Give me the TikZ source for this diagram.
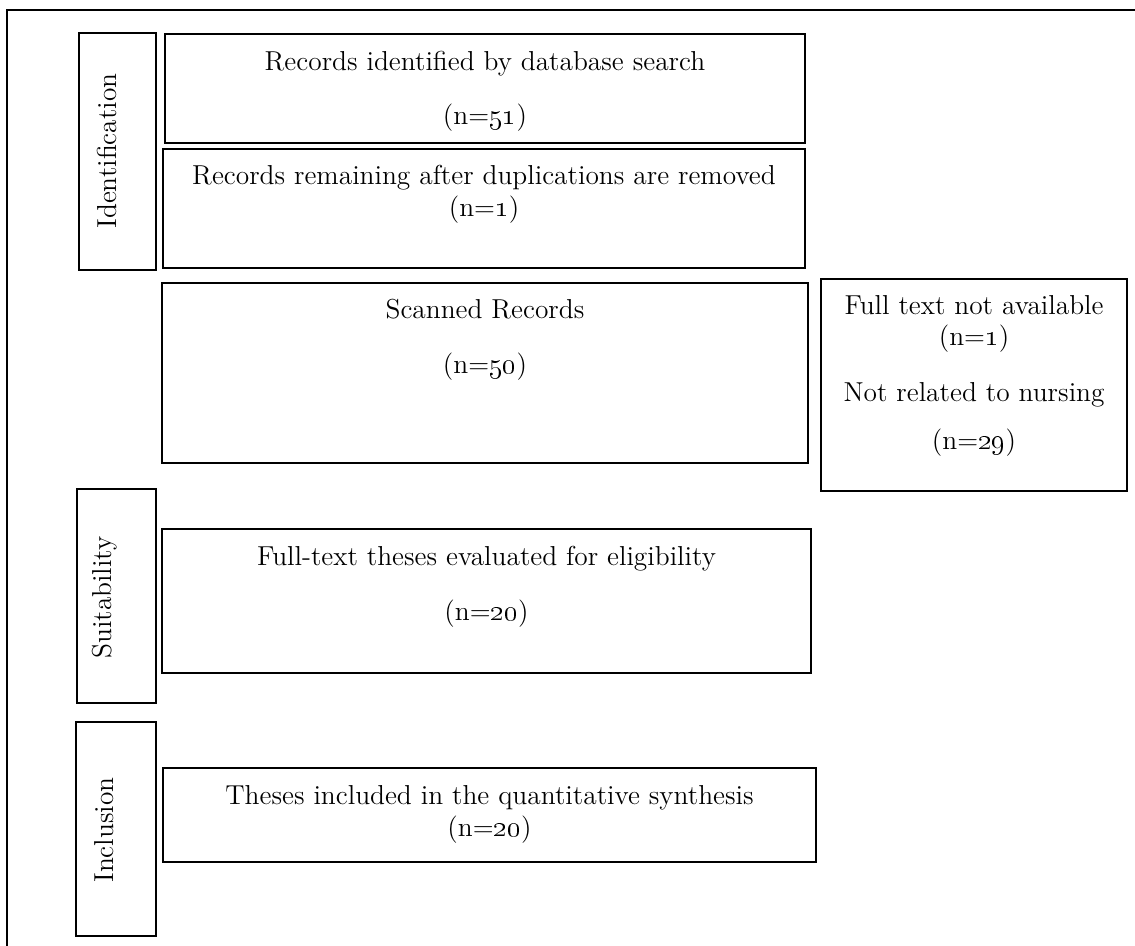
\documentclass[tikz,border=0pt]{standalone}
\newcommand\diagfont{\fontsize{13.7}{16}\selectfont}
\newcommand\osn[1]{\oldstylenums{#1}}
\tikzset{
  box/.style={draw, line width=1pt, inner sep=0pt, outer sep=0pt},
  lbl/.style={anchor=base, inner sep=0pt, outer sep=0pt, font=\diagfont},
}
\begin{document}
\begin{tikzpicture}[x=0.5pt, y=-0.5pt]
\useasboundingbox (0,0) rectangle (1135,946);
% outer frame (top and left only)
\coordinate (fbl) at (7,946);
\coordinate (ftl) at (7,10);
\coordinate (ftr) at (1135,10);
\draw[line width=1.1pt] (fbl) -- (ftl) -- (ftr);

% stage labels
\node[box, minimum width=38.5pt, minimum height=118.5pt] (identbox) at (117.5,151.5) {};
\node[lbl, rotate=90] (identtxt) at (116,151) {Identification};
\node[box, minimum width=39.5pt, minimum height=107pt] (suitbox) at (116.5,596) {};
\node[lbl, rotate=90] (suittxt) at (111,597.5) {Suitability};
\node[box, minimum width=40pt, minimum height=107pt] (inclbox) at (116,829) {};
\node[lbl, rotate=90] (incltxt) at (113,830) {Inclusion};

% main boxes
\node[box, minimum width=320pt, minimum height=54.5pt] (b1) at (485,88.5) {};
\node[lbl] (b1a) at (485,71) {Records identified by database search};
\node[lbl] (b1b) at (485,125) {(n=\osn{51})};

\node[box, minimum width=321pt, minimum height=59.5pt] (b2) at (484,208.5) {};
\node[lbl] (b2a) at (484,185) {Records remaining after duplications are removed};
\node[lbl] (b2b) at (484,217) {(n=\osn{1})};

\node[box, minimum width=323pt, minimum height=90pt] (b3) at (485,373) {};
\node[lbl] (b3a) at (485,319) {Scanned Records};
\node[lbl] (b3b) at (485,374) {(n=\osn{50})};

\node[box, minimum width=153pt, minimum height=106pt] (side) at (974,385) {};
\node[lbl] (sa) at (974,315) {Full text not available};
\node[lbl] (sb) at (974,346) {(n=\osn{1})};
\node[lbl] (sc) at (974,402) {Not related to nursing};
\node[lbl] (sd) at (974,450) {(n=\osn{29})};

\node[box, minimum width=324.5pt, minimum height=72pt] (b4) at (486.5,601) {};
\node[lbl] (b4a) at (486.5,565) {Full-text theses evaluated for eligibility};
\node[lbl] (b4b) at (486.5,620) {(n=\osn{20})};

\node[box, minimum width=326.5pt, minimum height=47pt] (b5) at (489.5,815) {};
\node[lbl] (b5a) at (489.5,804) {Theses included in the quantitative synthesis};
\node[lbl] (b5b) at (489.5,836) {(n=\osn{20})};
\end{tikzpicture}
\end{document}
